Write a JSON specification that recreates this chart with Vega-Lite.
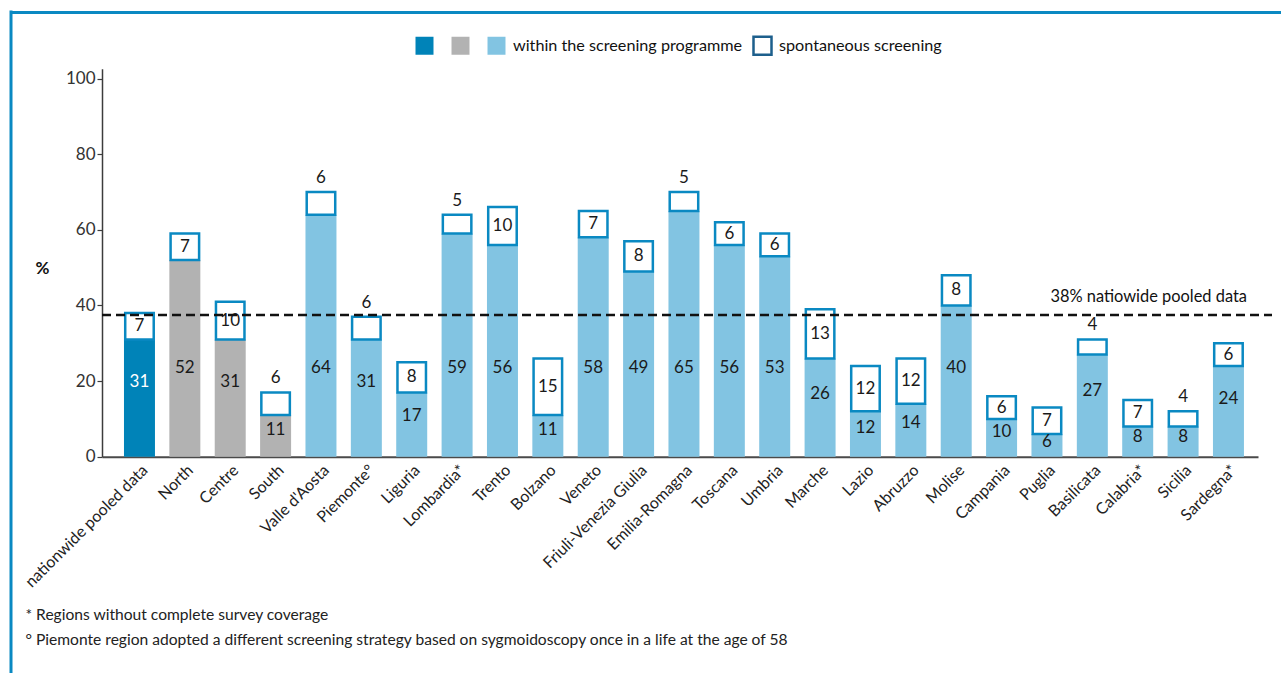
{
  "$schema": "https://vega.github.io/schema/vega-lite/v6.json",
  "width": 1281,
  "height": 673,
  "autosize": {"type": "none"},
  "padding": 0,
  "background": "white",
  "config": {
    "font": "Lato, Roboto, sans-serif",
    "view": {"stroke": null}
  },
  "resolve": {"scale": {"x": "independent", "y": "independent"}},
  "layer": [
    {
      "data": {
        "values": [
          {"region": "nationwide pooled data", "group": "nat", "within": 31, "spont": 7},
          {"region": "North", "group": "area", "within": 52, "spont": 7},
          {"region": "Centre", "group": "area", "within": 31, "spont": 10},
          {"region": "South", "group": "area", "within": 11, "spont": 6},
          {"region": "Valle d'Aosta", "group": "region", "within": 64, "spont": 6},
          {"region": "Piemonte°", "group": "region", "within": 31, "spont": 6},
          {"region": "Liguria", "group": "region", "within": 17, "spont": 8},
          {"region": "Lombardia*", "group": "region", "within": 59, "spont": 5},
          {"region": "Trento", "group": "region", "within": 56, "spont": 10},
          {"region": "Bolzano", "group": "region", "within": 11, "spont": 15},
          {"region": "Veneto", "group": "region", "within": 58, "spont": 7},
          {"region": "Friuli-Venezia Giulia", "group": "region", "within": 49, "spont": 8},
          {"region": "Emilia-Romagna", "group": "region", "within": 65, "spont": 5},
          {"region": "Toscana", "group": "region", "within": 56, "spont": 6},
          {"region": "Umbria", "group": "region", "within": 53, "spont": 6},
          {"region": "Marche", "group": "region", "within": 26, "spont": 13},
          {"region": "Lazio", "group": "region", "within": 12, "spont": 12},
          {"region": "Abruzzo", "group": "region", "within": 14, "spont": 12},
          {"region": "Molise", "group": "region", "within": 40, "spont": 8},
          {"region": "Campania", "group": "region", "within": 10, "spont": 6},
          {"region": "Puglia", "group": "region", "within": 6, "spont": 7},
          {"region": "Basilicata", "group": "region", "within": 27, "spont": 4},
          {"region": "Calabria*", "group": "region", "within": 8, "spont": 7},
          {"region": "Sicilia", "group": "region", "within": 8, "spont": 4},
          {"region": "Sardegna*", "group": "region", "within": 24, "spont": 6}
        ]
      },
      "transform": [
        {"calculate": "datum.within + datum.spont", "as": "top"},
        {"calculate": "datum.within + datum.spont / 2", "as": "midBox"},
        {"calculate": "min(23.4, datum.within * 0.64)", "as": "labelPos"}
      ],
      "encoding": {
        "x": {
          "field": "region",
          "type": "nominal",
          "sort": null,
          "scale": {"range": [102, 1258], "paddingInner": 0.317, "paddingOuter": 0.397, "align": 0.61},
          "axis": {
            "orient": "bottom",
            "offset": -216.3,
            "ticks": false,
            "grid": false,
            "domainColor": "#4a4a4a",
            "domainWidth": 2,
            "labelAngle": -45,
            "labelAlign": "right",
            "labelBaseline": "top",
            "labelPadding": 5,
            "labelFontSize": 16,
            "labelColor": "#222222",
            "labelLimit": 400,
            "labelOverlap": false,
            "title": ["* Regions without complete survey coverage", "° Piemonte region adopted a different screening strategy based on sygmoidoscopy once in a life at the age of 58"],
            "titleX": 25,
            "titleY": 151,
            "titleAlign": "left",
            "titleAngle": 0,
            "titleBaseline": "top",
            "titleFontWeight": "normal",
            "titleFontSize": 15.6,
            "titleLineHeight": 25,
            "titleColor": "#222222"
          }
        }
      },
      "layer": [
        {
          "mark": {"type": "bar"},
          "encoding": {
            "y": {
              "field": "within",
              "type": "quantitative",
              "scale": {"domain": [0, 102.6], "range": [456.7, 68.7], "nice": false, "zero": false},
              "axis": {
                "orient": "left",
                "offset": -102,
                "values": [0, 20, 40, 60, 80, 100],
                "grid": false,
                "domainColor": "#3c3c3c",
                "domainWidth": 1.5,
                "tickColor": "#3c3c3c",
                "tickSize": 5,
                "tickWidth": 1.2,
                "labelFontSize": 17,
                "labelColor": "#333333",
                "labelPadding": 2,
                "title": "%",
                "titleAngle": 0,
                "titleX": -60,
                "titleY": 268,
                "titleAlign": "center",
                "titleBaseline": "middle",
                "titleFontSize": 17,
                "titleFontWeight": "bold",
                "titleColor": "#111111"
              }
            },
            "color": {
              "field": "group",
              "type": "nominal",
              "scale": {"domain": ["nat", "area", "region", "spontaneous"], "range": ["#0083b8", "#b2b2b2", "#82c4e2", "#ffffff"]},
              "legend": {
                "orient": "none",
                "legendX": 414,
                "legendY": 35,
                "direction": "horizontal",
                "title": null,
                "padding": 0,
                "symbolType": "square",
                "symbolSize": 324,
                "symbolStrokeWidth": 0,
                "labelFontSize": 16.2,
                "labelColor": "#111111",
                "labelOffset": 6,
                "labelLimit": 500,
                "columnPadding": 5,
                "labelExpr": "datum.value === 'region' ? 'within the screening programme' : datum.value === 'spontaneous' ? 'spontaneous screening' : ''",
                "encode": {
                  "symbols": {
                    "update": {
                      "stroke": {"signal": "datum.value === 'spontaneous' ? '#1d5f8c' : 'transparent'"},
                      "strokeWidth": {"value": 2.5}
                    }
                  }
                }
              }
            }
          }
        },
        {
          "mark": {"type": "bar", "fill": "white", "stroke": "#0a89c2", "strokeWidth": 2.5, "width": {"band": 0.92}},
          "encoding": {
            "y": {"field": "within", "type": "quantitative"},
            "y2": {"field": "top"}
          }
        },
        {
          "mark": {"type": "text", "fontSize": 17, "baseline": "middle"},
          "encoding": {
            "y": {"field": "labelPos", "type": "quantitative"},
            "text": {"field": "within"},
            "color": {"condition": {"test": "datum.group === 'nat'", "value": "white"}, "value": "#1a1a1a"}
          }
        },
        {
          "transform": [{"filter": {"not": {"field": "region", "oneOf": ["South", "Valle d'Aosta", "Piemonte°", "Lombardia*", "Emilia-Romagna", "Basilicata", "Sicilia"]}}}],
          "mark": {"type": "text", "fontSize": 17, "baseline": "middle", "color": "#1a1a1a"},
          "encoding": {
            "y": {"field": "midBox", "type": "quantitative"},
            "text": {"field": "spont"}
          }
        },
        {
          "transform": [{"filter": {"field": "region", "oneOf": ["South", "Valle d'Aosta", "Piemonte°", "Lombardia*", "Emilia-Romagna", "Basilicata", "Sicilia"]}}],
          "mark": {"type": "text", "fontSize": 17, "baseline": "middle", "dy": -14, "color": "#1a1a1a"},
          "encoding": {
            "y": {"field": "top", "type": "quantitative"},
            "text": {"field": "spont"}
          }
        }
      ]
    },
    {
      "data": {"values": [{"label": "38% natiowide pooled data"}]},
      "encoding": {
        "y": {
          "datum": 37.5,
          "type": "quantitative",
          "scale": {"domain": [0, 102.6], "range": [456.7, 68.7], "nice": false, "zero": false},
          "axis": null
        }
      },
      "layer": [
        {
          "mark": {"type": "rule", "strokeDash": [9, 5], "strokeWidth": 2.5, "color": "#111111"},
          "encoding": {
            "x": {"datum": 0, "type": "quantitative", "scale": {"domain": [0, 1], "range": [102, 1272], "nice": false, "zero": false}, "axis": null},
            "x2": {"datum": 1}
          }
        },
        {
          "mark": {"type": "text", "align": "right", "baseline": "middle", "dx": -25, "dy": -18, "fontSize": 16.4, "color": "#111111"},
          "encoding": {
            "x": {"datum": 1, "type": "quantitative"},
            "text": {"field": "label"}
          }
        }
      ]
    },
    {
      "data": {"values": [{}]},
      "mark": {"type": "point", "opacity": 0},
      "encoding": {
        "x": {
          "datum": 0,
          "type": "quantitative",
          "scale": {"domain": [0, 1], "range": [9.5, 1281], "nice": false, "zero": false},
          "axis": {"orient": "top", "offset": -12, "domainColor": "#0a89c2", "domainWidth": 3, "ticks": false, "labels": false, "grid": false, "title": null}
        },
        "y": {
          "datum": 0,
          "type": "quantitative",
          "scale": {"domain": [0, 1], "range": [673, 10], "nice": false, "zero": false},
          "axis": {"orient": "right", "offset": -1270.5, "domainColor": "#0a89c2", "domainWidth": 3, "ticks": false, "labels": false, "grid": false, "title": null}
        }
      }
    }
  ]
}
